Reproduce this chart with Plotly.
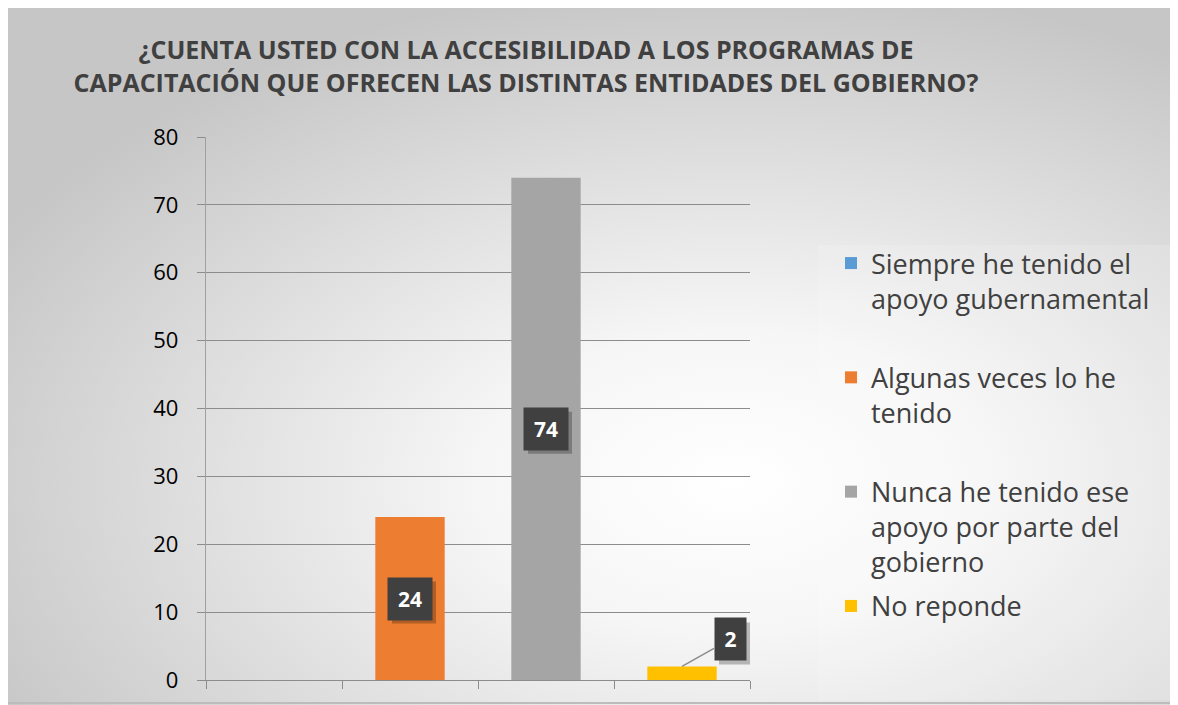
import base64
import plotly.graph_objects as go

categories = ["Siempre he tenido el apoyo gubernamental",
              "Algunas veces lo he tenido",
              "Nunca he tenido ese apoyo por parte del gobierno",
              "No reponde"]
legend_labels = ["Siempre he tenido el<br>apoyo gubernamental<br> ",
                 "Algunas veces lo he<br>tenido<br> ",
                 "Nunca he tenido ese<br>apoyo por parte del<br>gobierno",
                 "No reponde"]
values = [0, 24, 74, 2]
colors = ["#5B9BD5", "#ED7D31", "#A5A5A5", "#FFC000"]
title_text = ("<b>¿CUENTA USTED CON LA ACCESIBILIDAD A LOS PROGRAMAS DE<br>"
              "CAPACITACIÓN QUE OFRECEN LAS DISTINTAS ENTIDADES DEL GOBIERNO?</b>")

OFF = 8  # page body margin
W, H = 1178 - OFF, 705 - OFF
ML, MT = 206 - OFF, 137 - OFF
MR = W - (750 - OFF)
MB = H - (680 - OFF)
PW, PH = W - ML - MR, H - MT - MB


def px_x(page_x):
    return (page_x - 206) / PW


def px_y(page_y):
    return 1 - (page_y - 137) / PH


fig = go.Figure()
for cat, lab, v, c in zip(categories, legend_labels, values, colors):
    fig.add_trace(go.Bar(x=[cat], y=[v], name=lab, legendgroup=cat,
                         marker=dict(color=c, line=dict(width=0)),
                         width=0.51, showlegend=True))

# background gradient
svg = f'''<svg xmlns="http://www.w3.org/2000/svg" width="{W}" height="{H}" preserveAspectRatio="none">
<defs><radialGradient id="g" cx="0.62" cy="0.68" r="0.72" gradientUnits="objectBoundingBox">
<stop offset="0" stop-color="#ffffff"/><stop offset="0.3" stop-color="#f6f6f6"/>
<stop offset="1" stop-color="#c6c6c6"/></radialGradient></defs>
<rect width="{W}" height="{H}" fill="url(#g)"/></svg>'''
src = "data:image/svg+xml;base64," + base64.b64encode(svg.encode()).decode()
fig.add_layout_image(dict(source=src, xref="paper", yref="paper",
                          x=-ML / PW, y=1 + MT / PH, sizex=W / PW, sizey=H / PH,
                          xanchor="left", yanchor="top", sizing="stretch", layer="below"))

# data labels (dark boxes with soft shadow)
BOX_BG = "#404040"
SHADOW = "rgba(0,0,0,0.25)"
LBL_FONT = dict(color="white", size=21, family="Open Sans")
for i, (cat, v) in enumerate(zip(categories, values)):
    if v == 0:
        continue
    if v >= 10:
        fig.add_shape(type="rect", xref="x", yref="y", xsizemode="pixel", ysizemode="pixel",
                      xanchor=i, yanchor=v / 2, x0=-18, x1=26, y0=-25, y1=17,
                      fillcolor=SHADOW, line=dict(width=0), layer="above")
        fig.add_annotation(x=cat, y=v / 2, xref="x", yref="y", showarrow=False,
                           width=42, height=40, borderpad=1,
                           text=f"<b>{v}</b>", font=LBL_FONT, bgcolor=BOX_BG)
    else:
        fig.add_shape(type="rect", xref="x", yref="y", xsizemode="pixel", ysizemode="pixel",
                      xanchor=i, yanchor=v, x0=52 - 15, x1=52 + 16, y0=23 - 21, y1=23 + 21,
                      fillcolor=SHADOW, line=dict(width=0), layer="above")
        fig.add_annotation(x=cat, y=v, xref="x", yref="y", showarrow=True, arrowhead=0,
                           arrowwidth=1.5, arrowcolor="#8c8c8c", ax=48, ay=-27,
                           text=f"<b>{v}</b>", font=LBL_FONT,
                           bgcolor=BOX_BG, width=29, height=40, borderpad=1)

# legend light panel
fig.add_shape(type="rect", xref="paper", yref="paper",
              x0=px_x(818), x1=px_x(1178), y0=px_y(700), y1=px_y(245),
              fillcolor="rgba(255,255,255,0.14)", line=dict(width=0), layer="below")

# outer border
fig.add_shape(type="rect", xref="paper", yref="paper",
              x0=px_x(2), x1=px_x(1177), y0=px_y(703), y1=px_y(3),
              line=dict(color="#bcbcbc", width=2), layer="above")

fig.update_layout(
    width=W, height=H,
    margin=dict(l=ML, r=MR, t=MT, b=MB),
    paper_bgcolor="#d9d9d9",
    plot_bgcolor="rgba(0,0,0,0)",
    barmode="overlay",
    font=dict(family="Open Sans", color="#404040"),
    title=dict(text=title_text, x=(526 - OFF) / W, xanchor="center", xref="container",
               y=1 - (59 - OFF) / H, yanchor="middle", yref="container",
               font=dict(size=25, color="#404040", family="Open Sans")),
    showlegend=True,
    legend=dict(xref="container", yref="container", x=(831 - OFF) / W, y=1 - (239 - OFF) / H,
                xanchor="left", yanchor="top", valign="top", maxheight=460,
                bgcolor="rgba(0,0,0,0)", traceorder="grouped", tracegroupgap=6,
                font=dict(size=27, color="#404040", family="Open Sans"),
                itemwidth=30),
    xaxis=dict(type="category", categoryorder="array", categoryarray=categories,
               showticklabels=False, tickson="boundaries", ticks="outside", ticklen=8,
               tickcolor="#8c8c8c", tickwidth=1.3, showgrid=False,
               showline=True, linecolor="#8c8c8c", linewidth=1.3, zeroline=False),
    yaxis=dict(range=[0, 80], dtick=10, tick0=0, showgrid=True, gridcolor="#8c8c8c",
               gridwidth=1.3, ticks="outside", ticklen=8, tickcolor="#8c8c8c", tickwidth=1.3,
               showline=True, linecolor="#a0a0a0", linewidth=1.3, zeroline=False,
               tickfont=dict(size=22, color="#000000", family="Open Sans"), ticklabelstandoff=14),
)

fig.write_html("out.html")
